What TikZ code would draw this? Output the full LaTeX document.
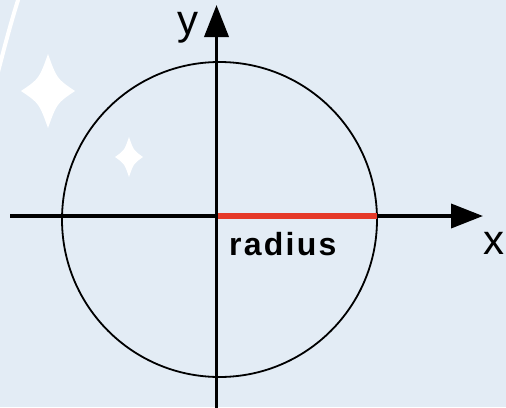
\documentclass[tikz,border=0pt]{standalone}
\usepackage{fontspec}
\setmainfont{Liberation Sans}
\usetikzlibrary{arrows.meta}
\definecolor{bgblue}{RGB}{227,236,245}
\definecolor{radred}{RGB}{229,57,40}
\begin{document}
\begin{tikzpicture}[x=1pt,y=-1pt,
  axisline/.style={line width=3.8pt,-{Triangle[length=32pt,width=24pt]}},
  circline/.style={line width=1.8pt},
  radline/.style={radred,line width=6.5pt},
  axlabel/.style={anchor=base,inner sep=0pt,font=\fontsize{42}{42}\selectfont},
  radlabel/.style={anchor=base west,inner sep=0pt,font=\fontsize{32}{32}\selectfont\bfseries\addfontfeatures{LetterSpace=7}},
  sparkle/.pic={\fill[white] (0,-1) .. controls (0.33,-0.33) .. (1,0)
      .. controls (0.33,0.33) .. (0,1)
      .. controls (-0.33,0.33) .. (-1,0)
      .. controls (-0.33,-0.33) .. cycle;}]
\fill[bgblue] (0,0) rectangle (506,407);
\useasboundingbox (0,0) rectangle (506,407);
% decorative white stroke and sparkles
\draw[white,line width=4pt] (19,-3) .. controls (11,22) and (5,45) .. (-2,72);
\pic[xscale=27,yscale=37] at (48,91) {sparkle};
\pic[xscale=14,yscale=20] at (129,157) {sparkle};
% coordinates
\coordinate (O) at (216.5,216);
\coordinate (xs) at (10,216);
\coordinate (xe) at (483,216);
\coordinate (ys) at (216.5,410);
\coordinate (ye) at (216.5,5);
\coordinate (C) at (219.5,219.5);
\coordinate (R0) at (218,216);
\coordinate (R1) at (377,216);
% circle
\draw[circline] (C) circle[radius=157.5];
% axes
\draw[axisline] (xs) -- (xe);
\draw[radline] (R0) -- (R1);
\draw[axisline] (ys) -- (ye);
% labels
\node[axlabel] (ylab) at (187.5,34) {y};
\node[axlabel] (xlab) at (494,254) {x};
\node[radlabel] (rlab) at (229,255) {radius};
\end{tikzpicture}
\end{document}
